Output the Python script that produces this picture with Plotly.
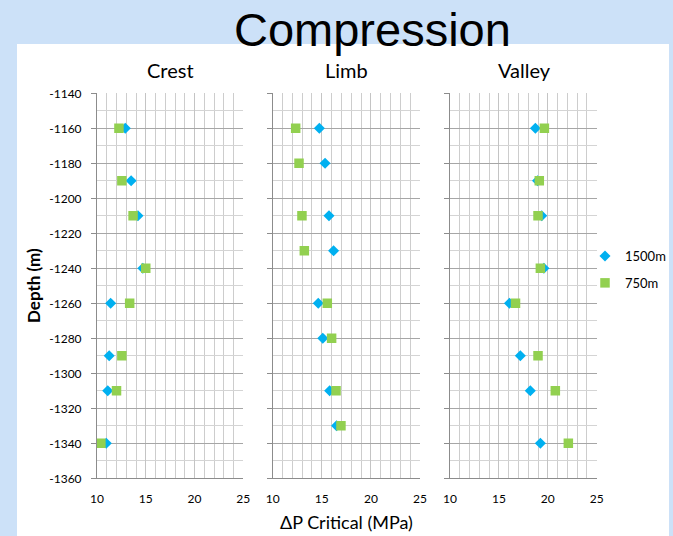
import plotly.graph_objects as go

W, H = 673, 536

panels = ["Crest", "Limb", "Valley"]
series_names = ["1500m", "750m"]

crest_depth = [-1160, -1190, -1210, -1240, -1260, -1290, -1310, -1340]
crest_1500 = [12.9, 13.5, 14.2, 14.7, 11.4, 11.25, 11.1, 10.95]
crest_750 = [12.25, 12.55, 13.7, 15.0, 13.35, 12.55, 12.0, 10.4]

limb_depth = [-1160, -1180, -1210, -1230, -1260, -1280, -1310, -1330]
limb_1500 = [14.75, 15.33, 15.73, 16.2, 14.64, 15.1, 15.8, 16.5]
limb_750 = [12.34, 12.68, 12.98, 13.22, 15.56, 16.0, 16.45, 16.95]

valley_depth = [-1160, -1190, -1210, -1240, -1260, -1290, -1310, -1340]
valley_1500 = [18.73, 18.95, 19.38, 19.6, 16.08, 17.19, 18.21, 19.24]
valley_750 = [19.65, 19.13, 19.0, 19.24, 16.7, 19.0, 20.77, 22.1]

x_ticks = [10, 15, 20, 25]
y_ticks = [-1360, -1340, -1320, -1300, -1280, -1260, -1240, -1220, -1200, -1180, -1160, -1140]
y_ticktext = [str(v) for v in y_ticks]

data = [
    (crest_depth, crest_1500, crest_750),
    (limb_depth, limb_1500, limb_750),
    (valley_depth, valley_1500, valley_750),
]

BLUE = "#00B0F0"
GREEN = "#92D050"
FONT = "Lato"

def px_x(p):
    return p / W

def px_y(p):
    return 1 - p / H

domains = [(97, 243.3), (272.7, 420), (450, 596.7)]
title_x = [170, 347, 524]

fig = go.Figure()
layout = {}
for i, (depth, s1500, s750) in enumerate(data):
    n = "" if i == 0 else str(i + 1)
    fig.add_trace(go.Scatter(
        x=s1500, y=depth, mode="markers", name=series_names[0],
        legendgroup="a", showlegend=(i == 0),
        marker=dict(symbol="diamond", size=8.5, color=BLUE),
        xaxis="x" + n, yaxis="y" + n))
    fig.add_trace(go.Scatter(
        x=s750, y=depth, mode="markers", name=series_names[1],
        legendgroup="b", showlegend=(i == 0),
        marker=dict(symbol="square", size=9.5, color=GREEN),
        xaxis="x" + n, yaxis="y" + n))
    d0, d1 = domains[i]
    layout["xaxis" + n] = dict(
        domain=[px_x(d0), px_x(d1)], range=[10, 25], anchor="y" + n,
        tickvals=x_ticks, ticks="", showgrid=True, gridcolor="#C4C4C4", gridwidth=1,
        minor=dict(dtick=1, showgrid=True, gridcolor="#CDCDCD", ticks=""),
        showline=True, linecolor="#8C8C8C", linewidth=1, zeroline=False,
        tickfont=dict(family=FONT, size=12, color="#000"),
        ticklabelstandoff=9, automargin=False,
        fixedrange=True,
    )
    layout["yaxis" + n] = dict(
        domain=[px_y(478.3), px_y(93.3)], range=[-1360, -1140], anchor="x" + n,
        tickvals=y_ticks, ticktext=y_ticktext, ticks="outside", ticklen=5, tickcolor="#8C8C8C",
        showticklabels=(i == 0),
        showgrid=True, gridcolor="#A6A6A6", gridwidth=1,
        minor=dict(dtick=10, showgrid=True, gridcolor="#D4D4D4", ticks=""),
        showline=True, linecolor="#8C8C8C", linewidth=1, zeroline=False,
        tickfont=dict(family=FONT, size=12, color="#000"),
        ticklabelstandoff=7, automargin=False,
        fixedrange=True,
    )

annotations = []
annotations.append(dict(
    text="Compression", x=px_x(372), y=px_y(30), xref="paper", yref="paper",
    xanchor="center", yanchor="middle", showarrow=False,
    font=dict(family="Liberation Sans", size=47, color="#000")))
for i, name in enumerate(panels):
    annotations.append(dict(
        text=name, x=px_x(title_x[i]), y=px_y(70), xref="paper", yref="paper",
        xanchor="center", yanchor="middle", showarrow=False,
        font=dict(family=FONT, size=20, color="#000")))
annotations.append(dict(
    text="ΔP Critical (MPa)", x=px_x(347), y=px_y(522), xref="paper", yref="paper",
    xanchor="center", yanchor="middle", showarrow=False,
    font=dict(family=FONT, size=18, color="#000")))
annotations.append(dict(
    text="<b>Depth (m)</b>", x=px_x(33), y=px_y(286), xref="paper", yref="paper",
    xanchor="center", yanchor="middle", showarrow=False, textangle=-90,
    font=dict(family=FONT, size=17, color="#000")))

shapes = [dict(
    type="rect", xref="paper", yref="paper", x0=px_x(17), x1=px_x(669),
    y0=0, y1=px_y(44), fillcolor="#FFFFFF", line=dict(width=0), layer="below")]

fig.update_layout(
    width=W, height=H, margin=dict(l=0, r=0, t=0, b=0, autoexpand=False),
    paper_bgcolor="#CCE1F8", plot_bgcolor="#FFFFFF",
    showlegend=True,
    legend=dict(x=px_x(585), y=px_y(241), xanchor="left", yanchor="top",
                bgcolor="rgba(0,0,0,0)", font=dict(family=FONT, size=13, color="#000"),
                traceorder="grouped", tracegroupgap=7, itemwidth=30),
    annotations=annotations, shapes=shapes,
    **layout,
)

fig.write_html(
    "out.html",
    config={"displayModeBar": False},
    post_script=(
        "document.body.style.margin='0';document.body.style.padding='0';"
        "document.body.style.overflow='hidden';"
    ),
)
